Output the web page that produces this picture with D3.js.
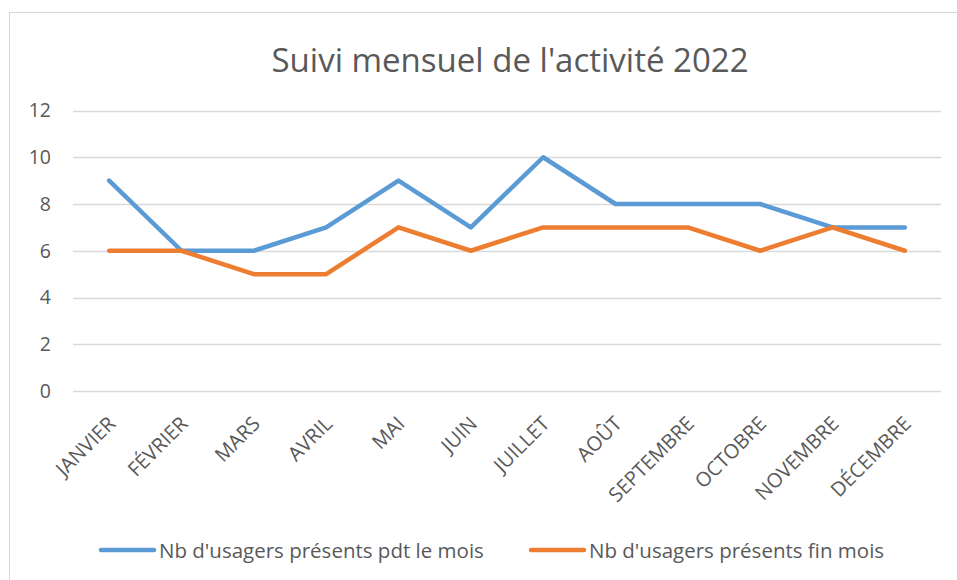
<!DOCTYPE html>
<html><head><meta charset="utf-8">
<script src="https://cdn.jsdelivr.net/npm/d3@7"></script>
<style>body{margin:0;background:#fff}svg{display:block;font-family:"Open Sans",sans-serif}</style>
</head><body><svg id="c" width="957" height="580"></svg>
<script>
const categories = ["JANVIER","FÉVRIER","MARS","AVRIL","MAI","JUIN","JUILLET","AOÛT","SEPTEMBRE","OCTOBRE","NOVEMBRE","DÉCEMBRE"];
const seriesNames = ["Nb d'usagers présents pdt le mois","Nb d'usagers présents fin mois"];
const presentsPdt = [9,6,6,7,9,7,10,8,8,8,7,7];
const presentsFin = [6,6,5,5,7,6,7,7,7,6,7,6];
const yTicks = [0,2,4,6,8,10,12];
const colors = ["#5B9BD5","#ED7D31"];

const svg = d3.select("#c");
svg.append("rect").attr("x",9.5).attr("y",12.5).attr("width",1000).attr("height",1000)
  .attr("fill","none").attr("stroke","#d9d9d9").attr("stroke-width",1);

const x = d3.scalePoint().domain(categories).range([73,941]).padding(0.5);
const y = d3.scaleLinear().domain([0,12]).range([391,110.5]);

svg.append("text").attr("x",510).attr("y",72).attr("text-anchor","middle")
  .attr("font-size",33).attr("fill","#595959").text("Suivi mensuel de l'activité 2022");

// grid
svg.append("g").selectAll("line").data(yTicks).join("line")
  .attr("x1",73).attr("x2",941).attr("y1",d=>Math.round(y(d))+0.5).attr("y2",d=>Math.round(y(d))+0.5)
  .attr("stroke","#d9d9d9").attr("stroke-width",1.3);

const yAxis = svg.append("g").attr("transform","translate(73,0)")
  .call(d3.axisLeft(y).tickValues(yTicks).tickSize(0).tickPadding(22));
yAxis.select(".domain").remove();
yAxis.selectAll("text").attr("font-size",19.5).attr("fill","#595959").attr("font-family","Open Sans");

const xAxis = svg.append("g").attr("transform","translate(0,391)")
  .call(d3.axisBottom(x).tickSize(0));
xAxis.select(".domain").remove();
xAxis.selectAll("text").attr("font-size",20).attr("fill","#595959").attr("font-family","Open Sans")
  .attr("text-anchor","end").attr("dy",null).attr("y",null)
  .attr("transform","translate(7,34) rotate(-45)");

const line = d3.line().x((d,i)=>x(categories[i])).y(d=>y(d));
[presentsPdt,presentsFin].forEach((s,k)=>{
  svg.append("path").datum(s).attr("d",line).attr("fill","none")
    .attr("stroke",colors[k]).attr("stroke-width",4.5).attr("stroke-linecap","round").attr("stroke-linejoin","round");
});

const legX = [101,531];
seriesNames.forEach((n,k)=>{
  svg.append("line").attr("x1",legX[k]).attr("x2",legX[k]+53).attr("y1",550).attr("y2",550)
    .attr("stroke",colors[k]).attr("stroke-width",4.5).attr("stroke-linecap","round");
  svg.append("text").attr("x",legX[k]+58).attr("y",558).attr("font-size",20.5).attr("fill","#595959").text(n);
});
</script></body></html>
